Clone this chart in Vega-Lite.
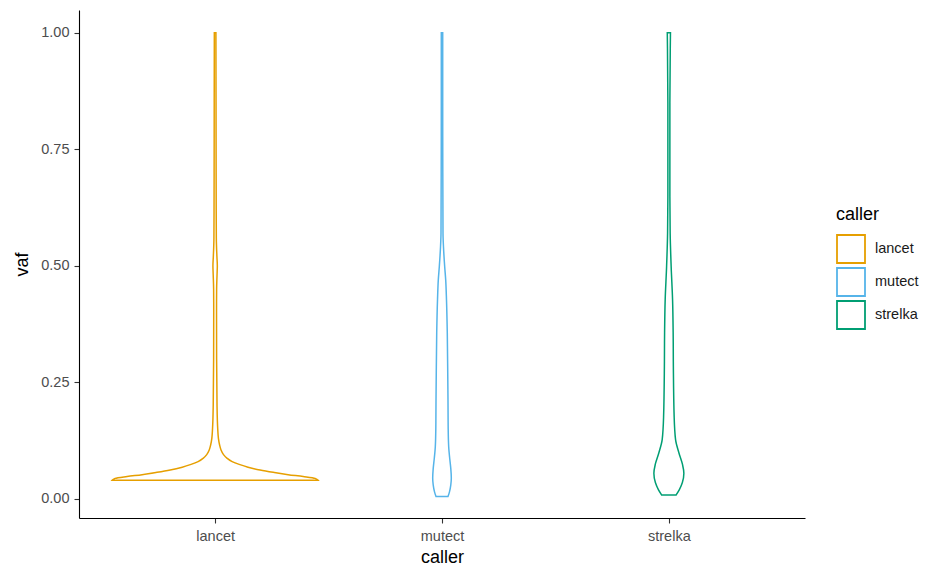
{
  "$schema": "https://vega.github.io/schema/vega-lite/v6.json",
  "width": 726,
  "height": 508,
  "autosize": {"type": "none"},
  "padding": {"left": 79, "top": 10, "right": 125, "bottom": 50},
  "background": "white",
  "config": {"view": {"stroke": null}, "font": "Liberation Sans"},
  "data": {"values": [
    {"caller": "lancet", "vaf": 0.040, "left": 0.546, "right": 1.454},
    {"caller": "lancet", "vaf": 0.044, "left": 0.559, "right": 1.441},
    {"caller": "lancet", "vaf": 0.048, "left": 0.612, "right": 1.388},
    {"caller": "lancet", "vaf": 0.052, "left": 0.678, "right": 1.322},
    {"caller": "lancet", "vaf": 0.057, "left": 0.744, "right": 1.256},
    {"caller": "lancet", "vaf": 0.062, "left": 0.802, "right": 1.198},
    {"caller": "lancet", "vaf": 0.068, "left": 0.855, "right": 1.145},
    {"caller": "lancet", "vaf": 0.074, "left": 0.894, "right": 1.106},
    {"caller": "lancet", "vaf": 0.080, "left": 0.925, "right": 1.075},
    {"caller": "lancet", "vaf": 0.087, "left": 0.947, "right": 1.053},
    {"caller": "lancet", "vaf": 0.095, "left": 0.963, "right": 1.037},
    {"caller": "lancet", "vaf": 0.105, "left": 0.974, "right": 1.026},
    {"caller": "lancet", "vaf": 0.115, "left": 0.980, "right": 1.020},
    {"caller": "lancet", "vaf": 0.130, "left": 0.9855, "right": 1.0145},
    {"caller": "lancet", "vaf": 0.150, "left": 0.9885, "right": 1.0115},
    {"caller": "lancet", "vaf": 0.200, "left": 0.9916, "right": 1.0084},
    {"caller": "lancet", "vaf": 0.300, "left": 0.9934, "right": 1.0066},
    {"caller": "lancet", "vaf": 0.400, "left": 0.9938, "right": 1.0062},
    {"caller": "lancet", "vaf": 0.450, "left": 0.9934, "right": 1.0066},
    {"caller": "lancet", "vaf": 0.480, "left": 0.9916, "right": 1.0084},
    {"caller": "lancet", "vaf": 0.500, "left": 0.9903, "right": 1.0097},
    {"caller": "lancet", "vaf": 0.520, "left": 0.9921, "right": 1.0079},
    {"caller": "lancet", "vaf": 0.560, "left": 0.9947, "right": 1.0053},
    {"caller": "lancet", "vaf": 0.700, "left": 0.9956, "right": 1.0044},
    {"caller": "lancet", "vaf": 0.850, "left": 0.996, "right": 1.004},
    {"caller": "lancet", "vaf": 1.000, "left": 0.9965, "right": 1.0035},
    {"caller": "mutect", "vaf": 0.005, "left": 1.9736, "right": 2.0264},
    {"caller": "mutect", "vaf": 0.015, "left": 1.967, "right": 2.033},
    {"caller": "mutect", "vaf": 0.030, "left": 1.9612, "right": 2.0388},
    {"caller": "mutect", "vaf": 0.045, "left": 1.959, "right": 2.041},
    {"caller": "mutect", "vaf": 0.065, "left": 1.9612, "right": 2.0388},
    {"caller": "mutect", "vaf": 0.085, "left": 1.9656, "right": 2.0344},
    {"caller": "mutect", "vaf": 0.112, "left": 1.9705, "right": 2.0295},
    {"caller": "mutect", "vaf": 0.150, "left": 1.9727, "right": 2.0273},
    {"caller": "mutect", "vaf": 0.212, "left": 1.9736, "right": 2.0264},
    {"caller": "mutect", "vaf": 0.280, "left": 1.9749, "right": 2.0251},
    {"caller": "mutect", "vaf": 0.356, "left": 1.9767, "right": 2.0233},
    {"caller": "mutect", "vaf": 0.427, "left": 1.9802, "right": 2.0198},
    {"caller": "mutect", "vaf": 0.470, "left": 1.9837, "right": 2.0163},
    {"caller": "mutect", "vaf": 0.498, "left": 1.9881, "right": 2.0119},
    {"caller": "mutect", "vaf": 0.540, "left": 1.9934, "right": 2.0066},
    {"caller": "mutect", "vaf": 0.570, "left": 1.9956, "right": 2.0044},
    {"caller": "mutect", "vaf": 0.700, "left": 1.9965, "right": 2.0035},
    {"caller": "mutect", "vaf": 0.850, "left": 1.9969, "right": 2.0031},
    {"caller": "mutect", "vaf": 1.000, "left": 1.9969, "right": 2.0031},
    {"caller": "strelka", "vaf": 0.0086, "left": 2.9678, "right": 3.0322},
    {"caller": "strelka", "vaf": 0.020, "left": 2.9537, "right": 3.0463},
    {"caller": "strelka", "vaf": 0.035, "left": 2.9405, "right": 3.0595},
    {"caller": "strelka", "vaf": 0.055, "left": 2.9339, "right": 3.0661},
    {"caller": "strelka", "vaf": 0.075, "left": 2.9405, "right": 3.0595},
    {"caller": "strelka", "vaf": 0.099, "left": 2.9559, "right": 3.0441},
    {"caller": "strelka", "vaf": 0.127, "left": 2.9705, "right": 3.0295},
    {"caller": "strelka", "vaf": 0.176, "left": 2.9767, "right": 3.0233},
    {"caller": "strelka", "vaf": 0.284, "left": 2.9802, "right": 3.0198},
    {"caller": "strelka", "vaf": 0.356, "left": 2.9811, "right": 3.0189},
    {"caller": "strelka", "vaf": 0.427, "left": 2.9837, "right": 3.0163},
    {"caller": "strelka", "vaf": 0.498, "left": 2.9899, "right": 3.0101},
    {"caller": "strelka", "vaf": 0.570, "left": 2.9943, "right": 3.0057},
    {"caller": "strelka", "vaf": 0.650, "left": 2.9956, "right": 3.0044},
    {"caller": "strelka", "vaf": 0.850, "left": 2.9956, "right": 3.0044},
    {"caller": "strelka", "vaf": 1.000, "left": 2.993, "right": 3.007}
  ]},
  "mark": {"type": "area", "orient": "horizontal", "interpolate": "monotone", "fill": "white", "strokeWidth": 1.5},
  "encoding": {
    "y": {
      "field": "vaf", "type": "quantitative",
      "scale": {"domain": [-0.041, 1.049], "nice": false, "zero": false},
      "axis": {
        "title": "vaf", "values": [0, 0.25, 0.5, 0.75, 1], "format": ".2f", "grid": false,
        "domainColor": "black", "domainWidth": 1.1, "tickColor": "#333333", "tickSize": 5, "tickWidth": 1.1,
        "labelFont": "Liberation Sans", "labelFontSize": 14.5, "labelColor": "#4D4D4D", "labelPadding": 5,
        "titleFont": "Liberation Sans", "titleFontSize": 18, "titleFontWeight": "normal", "titleColor": "black", "titlePadding": 9
      }
    },
    "x": {
      "field": "left", "type": "quantitative",
      "scale": {"domain": [0.4, 3.6], "nice": false, "zero": false},
      "axis": {
        "title": "caller", "values": [1, 2, 3], "grid": false,
        "labelExpr": "datum.value == 1 ? 'lancet' : datum.value == 2 ? 'mutect' : 'strelka'",
        "domainColor": "black", "domainWidth": 1.1, "tickColor": "#333333", "tickSize": 5, "tickWidth": 1.1,
        "labelFont": "Liberation Sans", "labelFontSize": 14.5, "labelColor": "#4D4D4D", "labelPadding": 6,
        "titleFont": "Liberation Sans", "titleFontSize": 18, "titleFontWeight": "normal", "titleColor": "black", "titlePadding": 6
      }
    },
    "x2": {"field": "right"},
    "stroke": {
      "field": "caller", "type": "nominal",
      "scale": {"domain": ["lancet", "mutect", "strelka"], "range": ["#E69F00", "#56B4E9", "#009E73"]},
      "legend": {
        "orient": "none", "legendX": 757, "legendY": 196,
        "title": "caller", "titleFont": "Liberation Sans", "titleFontSize": 18, "titleFontWeight": "normal", "titleColor": "black", "titlePadding": 10,
        "symbolType": "square", "symbolSize": 784, "symbolStrokeWidth": 1.8, "symbolFillColor": "white", "symbolOpacity": 1,
        "labelFont": "Liberation Sans", "labelFontSize": 14.5, "labelColor": "#1a1a1a", "labelOffset": 9, "rowPadding": -5
      }
    }
  }
}
